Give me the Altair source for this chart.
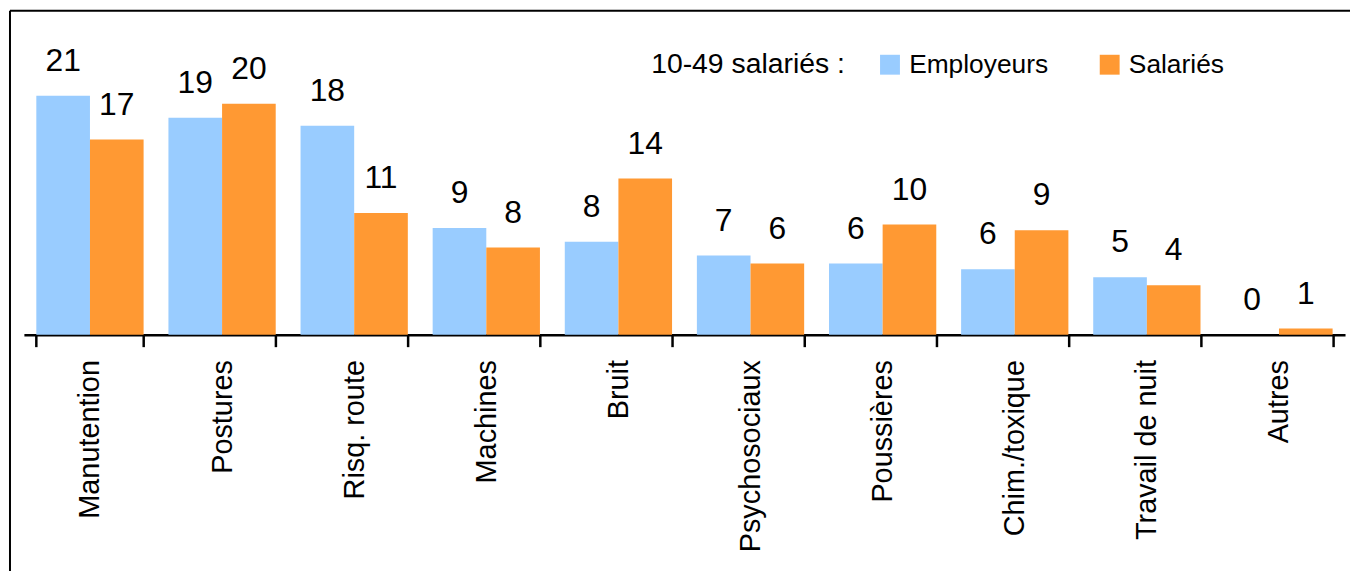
import altair as alt
import pandas as pd

categories = ["Manutention", "Postures", "Risq. route", "Machines", "Bruit",
              "Psychosociaux", "Poussières", "Chim./toxique", "Travail de nuit", "Autres"]
employeurs = [20.8, 18.9, 18.2, 9.3, 8.1, 6.9, 6.2, 5.7, 5.0, 0.0]
salaries = [17.0, 20.1, 10.6, 7.6, 13.6, 6.2, 9.6, 9.1, 4.3, 0.55]
series = ["Employeurs", "Salariés"]
colors = ["#99CCFF", "#FF9933"]
legend_title = "10-49 salariés :"

FONT = "Liberation Sans, Arial, sans-serif"

rows = []
for i, c in enumerate(categories):
    rows.append({"cat": c, "serie": series[0], "val": employeurs[i]})
    rows.append({"cat": c, "serie": series[1], "val": salaries[i]})
df = pd.DataFrame(rows)

base = alt.Chart(df).encode(
    x=alt.X("cat:N", sort=categories,
            scale=alt.Scale(paddingInner=0.188, paddingOuter=0.094),
            axis=alt.Axis(title=None, labelAngle=270, tickBand="extent",
                          domainColor="black", domainWidth=2.5,
                          tickColor="black", tickWidth=2.5, tickSize=12,
                          labelColor="black", labelFontSize=29, labelFont=FONT,
                          labelPadding=13, labelLimit=400, labelOverlap=False)),
    xOffset=alt.XOffset("serie:N", sort=series,
                        scale=alt.Scale(paddingInner=0, paddingOuter=0)),
    y=alt.Y("val:Q", scale=alt.Scale(domain=[0, 28.3]), axis=None),
)

bars = base.mark_bar().encode(
    color=alt.Color("serie:N", sort=series,
                    scale=alt.Scale(domain=series, range=colors),
                    legend=alt.Legend(title=legend_title, orient="none",
                                      legendX=631, legendY=42,
                                      direction="horizontal", titleOrient="left",
                                      titleFontSize=28.5, titleFont=FONT,
                                      titleFontWeight="normal", titleColor="black",
                                      titleLimit=400, titlePadding=32,
                                      labelFontSize=26.5, labelFont=FONT,
                                      labelColor="black", labelOffset=6,
                                      symbolType="square", symbolSize=400,
                                      symbolStrokeWidth=0, columnPadding=48,
                                      padding=0)),
)

labels = base.mark_text(baseline="alphabetic", dy=-25, fontSize=32,
                        font=FONT, color="black").encode(
    text=alt.Text("val:Q", format=".0f")
)

frame_df = pd.DataFrame({"a": [0]})
frame_left = alt.Chart(frame_df).mark_rule(color="black", strokeWidth=2).encode(
    x=alt.value(-14), y=alt.value(1), y2=alt.value(600))
frame_top = alt.Chart(frame_df).mark_rule(color="black", strokeWidth=2).encode(
    x=alt.value(-14), x2=alt.value(1400), y=alt.value(1))

chart = alt.layer(bars, labels, frame_left, frame_top).properties(
    width=1329, height=327,
    autosize=alt.AutoSizeParams(type="none"),
    padding={"left": 16, "top": 0, "right": 5, "bottom": 236},
).configure_view(stroke="transparent")

chart.save("out.html", embed_options={"renderer": "svg", "actions": False})
